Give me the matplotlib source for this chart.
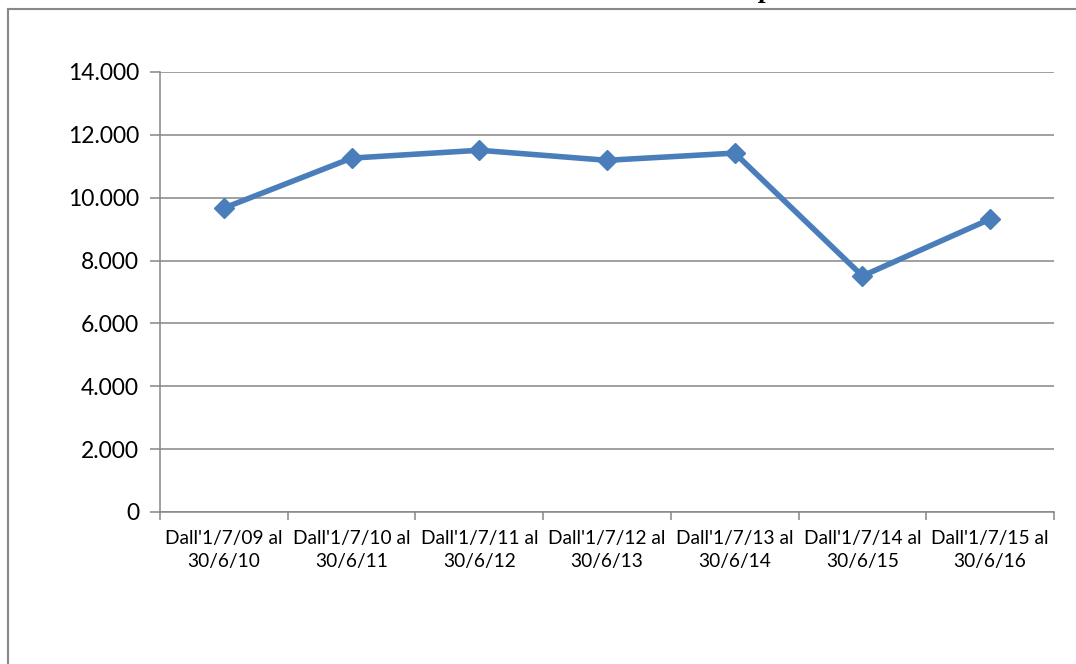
import matplotlib
matplotlib.use("Agg")
import matplotlib.pyplot as plt
from matplotlib.lines import Line2D
from matplotlib.ticker import FixedLocator, FuncFormatter

# Periodi annuali (1 luglio - 30 giugno)
periodi = [
    "Dall'1/7/09 al\n30/6/10",
    "Dall'1/7/10 al\n30/6/11",
    "Dall'1/7/11 al\n30/6/12",
    "Dall'1/7/12 al\n30/6/13",
    "Dall'1/7/13 al\n30/6/14",
    "Dall'1/7/14 al\n30/6/15",
    "Dall'1/7/15 al\n30/6/16",
]
valori = [9670, 11260, 11510, 11190, 11420, 7510, 9320]
y_ticks = [0, 2000, 4000, 6000, 8000, 10000, 12000, 14000]

blu = "#4a7ebb"
grigio = "#868686"

plt.rcParams["font.family"] = ["Lato", "DejaVu Sans"]

fig = plt.figure(figsize=(10.76, 6.64), dpi=100)
ax = fig.add_axes([160 / 1076, 1 - 512 / 664, (1054 - 160) / 1076, (512 - 72) / 664])

x = [i + 0.5 for i in range(len(valori))]
ax.plot(x, valori, color=blu, linewidth=4, marker="D", markersize=10.5,
        markerfacecolor=blu, markeredgecolor=blu, zorder=3)

ax.set_xlim(0, len(valori))
ax.set_ylim(0, 14000)
ax.set_yticks(y_ticks)
ax.yaxis.set_major_formatter(FuncFormatter(lambda v, p: f"{int(v):,}".replace(",", ".")))
ax.grid(axis="y", color=grigio, linewidth=1.1)
ax.set_axisbelow(True)

# tacche tra le categorie, etichette al centro
ax.xaxis.set_major_locator(FixedLocator(range(len(valori) + 1)))
ax.xaxis.set_major_formatter(FuncFormatter(lambda v, p: ""))
ax.xaxis.set_minor_locator(FixedLocator(x))
ax.set_xticklabels(periodi, minor=True, linespacing=1.45)
ax.tick_params(axis="x", which="major", length=6, width=1.1, color=grigio, direction="out")
ax.tick_params(axis="x", which="minor", length=0, pad=13, labelsize=13.8)
ax.tick_params(axis="y", length=7, width=1.1, color=grigio, labelsize=16.5, pad=8)

for s in ["top", "right"]:
    ax.spines[s].set_visible(False)
for s in ["left", "bottom"]:
    ax.spines[s].set_color(grigio)
    ax.spines[s].set_linewidth(1.1)

# cornice esterna del riquadro del grafico
fig.add_artist(Line2D([8 / 1076, 1.0], [1 - 9 / 664, 1 - 9 / 664], color="#888888", linewidth=1.5))
fig.add_artist(Line2D([8 / 1076, 8 / 1076], [0, 1 - 9 / 664], color="#888888", linewidth=1.5))

# titolo tagliato in alto
fig.text(767 / 1076, 1 + 3 / 664, "p", family="Liberation Serif", style="italic",
         weight="bold", fontsize=20, ha="center", va="baseline")

fig.savefig("out.png", dpi=100)
